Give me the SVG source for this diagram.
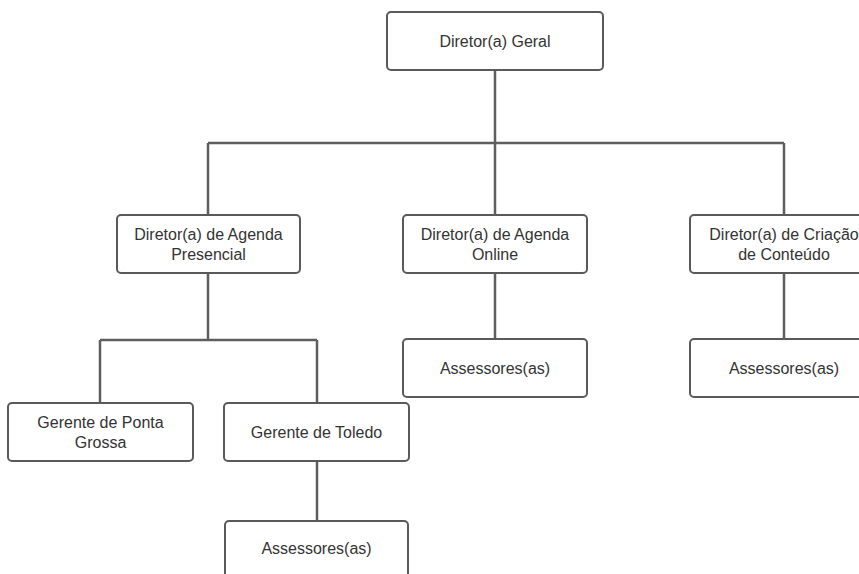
<svg xmlns="http://www.w3.org/2000/svg" width="859" height="574" viewBox="0 0 859 574">
<style>
.box{fill:#fff;stroke:#5a5a5a;stroke-width:2}
.lbl{font-family:"Liberation Sans",Arial,sans-serif;font-size:16px;fill:#333;text-anchor:middle}
.conn{fill:none;stroke:#5e5e5e;stroke-width:2.5}
</style>
<rect width="859" height="574" fill="#fff"/>
<g id="connectors">
<path class="conn" d="M495,70 V143 M208,143 H784 M208,143 V215 M495,143 V215 M784,143 V215"/>
<path class="conn" d="M208,273 V340 M100,340 H317 M100,340 V403 M317,340 V403 M317,461 V521"/>
<path class="conn" d="M495,273 V339 M784,273 V339"/>
</g>
<g id="diretor-geral">
<rect class="box" x="387" y="12" width="216" height="58" rx="4"/>
<text class="lbl" x="495" y="46.5">Diretor(a) Geral</text>
</g>
<g id="diretor-presencial">
<rect class="box" x="117" y="215" width="183" height="58" rx="4"/>
<text class="lbl" x="208.5" y="240">Diretor(a) de Agenda</text>
<text class="lbl" x="208.5" y="260">Presencial</text>
</g>
<g id="diretor-online">
<rect class="box" x="403" y="215" width="184" height="58" rx="4"/>
<text class="lbl" x="495" y="240">Diretor(a) de Agenda</text>
<text class="lbl" x="495" y="260">Online</text>
</g>
<g id="diretor-criacao">
<rect class="box" x="690" y="215" width="188" height="58" rx="4"/>
<text class="lbl" x="784" y="240">Diretor(a) de Criação</text>
<text class="lbl" x="784" y="260">de Conteúdo</text>
</g>
<g id="assessores-online">
<rect class="box" x="403" y="339" width="184" height="58" rx="4"/>
<text class="lbl" x="495" y="373.7">Assessores(as)</text>
</g>
<g id="assessores-criacao">
<rect class="box" x="690" y="339" width="188" height="58" rx="4"/>
<text class="lbl" x="784" y="373.7">Assessores(as)</text>
</g>
<g id="gerente-ponta-grossa">
<rect class="box" x="8" y="403" width="185" height="58" rx="4"/>
<text class="lbl" x="100.5" y="428">Gerente de Ponta</text>
<text class="lbl" x="100.5" y="448">Grossa</text>
</g>
<g id="gerente-toledo">
<rect class="box" x="224" y="403" width="185" height="58" rx="4"/>
<text class="lbl" x="316.5" y="437.7">Gerente de Toledo</text>
</g>
<g id="assessores-toledo">
<rect class="box" x="225" y="521" width="183" height="58" rx="4"/>
<text class="lbl" x="316.5" y="553.7">Assessores(as)</text>
</g>
</svg>
